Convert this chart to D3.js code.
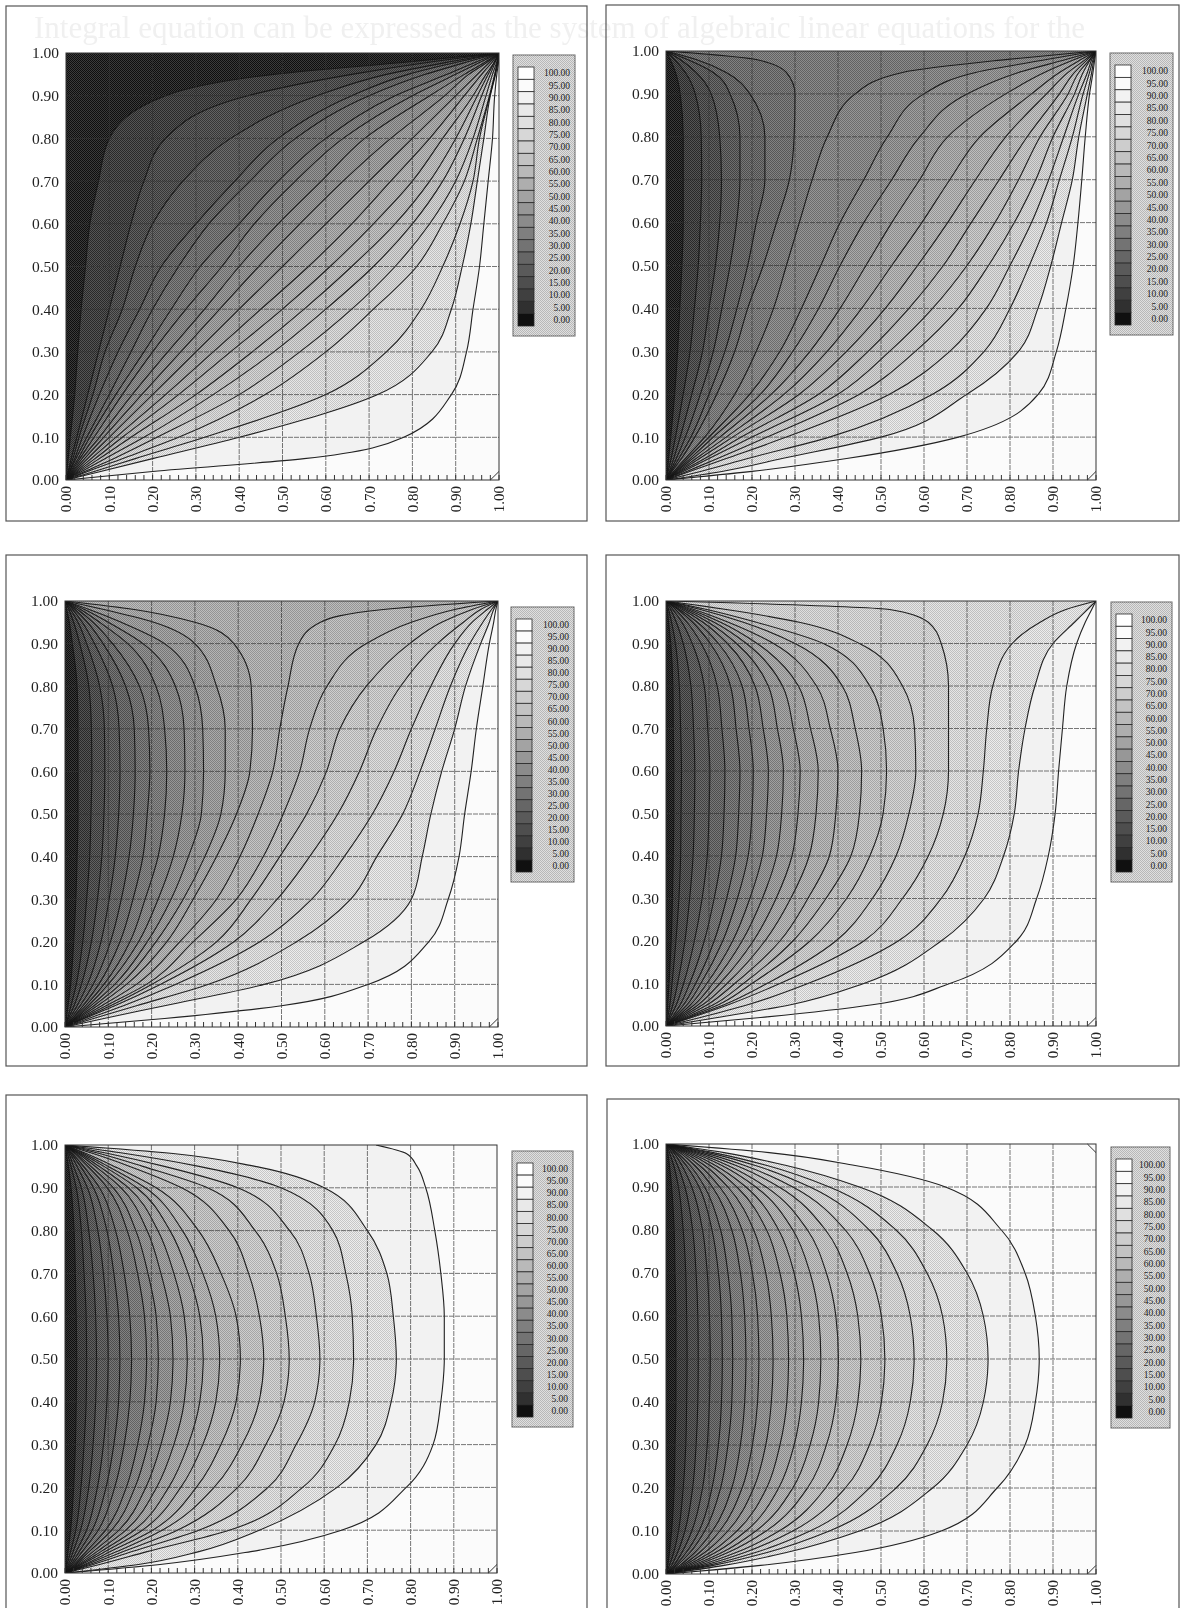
<!DOCTYPE html>
<html>
<head>
<meta charset="utf-8">
<script src="https://cdnjs.cloudflare.com/ajax/libs/d3/7.8.5/d3.min.js"></script>
<style>
html,body{margin:0;padding:0;background:#fff;}
svg{display:block;filter:blur(0.45px);}
text{font-family:"Liberation Serif",serif;fill:#222;}
</style>
</head>
<body>
<script>
// x position of each contour (level 5 ... 95) where it crosses the rows below
var rowY = [0.02,0.05,0.1,0.2,0.3,0.4,0.5,0.6,0.7,0.8,0.9,0.95,0.98,1]
var contourLevels = [5,10,15,20,25,30,35,40,45,50,55,60,65,70,75,80,85,90,95]
var legendLevels = [100,95,90,85,80,75,70,65,60,55,50,45,40,35,30,25,20,15,10,5,0]
var legendGrays = ["#ffffff","#fbfbfb","#f2f2f2","#e9e9e9","#e0e0e0","#d7d7d7","#cdcdcd","#c3c3c3","#b9b9b9","#aeaeae","#a3a3a3","#979797","#8b8b8b","#7f7f7f","#737373","#666666","#5a5a5a","#4e4e4e","#404040","#303030","#101010"]
var axisTicks = [0,0.1,0.2,0.3,0.4,0.5,0.6,0.7,0.8,0.9,1]
var cornerCut = [0.98,0.02]

var panelOne = [
[.002,.005,.01,.02,.027,.035,.045,.055,.075,.10,.23,.48,.80,1],
[.005,.012,.025,.05,.075,.10,.125,.15,.18,.23,.42,.66,.85,1],
[.006,.016,.03,.062,.09,.13,.16,.20,.27,.38,.58,.74,.89,1],
[.008,.02,.038,.077,.12,.17,.22,.30,.39,.49,.66,.79,.91,1],
[.009,.023,.048,.10,.15,.20,.26,.33,.425,.53,.70,.83,.93,1],
[.011,.028,.055,.115,.18,.243,.31,.40,.49,.60,.76,.88,.95,1],
[.013,.032,.065,.13,.20,.277,.36,.435,.53,.64,.80,.90,.96,1],
[.015,.037,.077,.153,.235,.32,.40,.49,.59,.69,.84,.92,.97,1],
[.017,.043,.087,.175,.265,.355,.445,.54,.64,.75,.875,.93,.975,1],
[.02,.05,.10,.20,.30,.40,.50,.60,.70,.80,.90,.95,.98,1],
[.023,.058,.115,.23,.34,.45,.56,.66,.75,.84,.92,.96,.985,1],
[.027,.067,.13,.26,.38,.50,.61,.71,.80,.87,.94,.97,.99,1],
[.031,.077,.15,.30,.43,.55,.66,.76,.84,.90,.95,.975,.99,1],
[.036,.09,.18,.34,.48,.60,.71,.80,.87,.92,.96,.98,.992,1],
[.043,.11,.21,.40,.54,.66,.76,.84,.90,.94,.97,.985,.995,1],
[.05,.13,.26,.46,.60,.71,.81,.87,.92,.95,.978,.99,.996,1],
[.065,.16,.32,.60,.74,.82,.87,.91,.94,.955,.979,.991,.997,1],
[.08,.20,.40,.72,.845,.89,.915,.935,.95,.965,.98,.992,.998,1],
[.20,.55,.78,.89,.925,.94,.955,.965,.975,.985,.99,.995,.999,1]
]
var panelTwo = [
[.003,.006,.011,.02,.027,.032,.037,.04,.04,.04,.033,.022,.01,0],
[.005,.012,.022,.04,.056,.066,.075,.08,.083,.082,.068,.045,.02,0],
[.008,.018,.033,.06,.085,.10,.115,.125,.129,.125,.105,.07,.033,0],
[.01,.024,.045,.08,.11,.13,.149,.164,.172,.172,.149,.11,.05,0],
[.012,.03,.058,.10,.137,.165,.19,.21,.23,.23,.195,.14,.07,0],
[.014,.036,.067,.118,.16,.19,.226,.257,.287,.298,.30,.28,.21,0],
[.018,.045,.09,.16,.21,.25,.28,.31,.34,.375,.44,.55,.79,1],
[.021,.05,.10,.195,.265,.315,.36,.405,.46,.515,.60,.72,.885,1],
[.023,.056,.11,.22,.295,.355,.405,.46,.525,.59,.70,.82,.93,1],
[.025,.062,.125,.245,.335,.405,.465,.525,.59,.655,.79,.88,.95,1],
[.028,.07,.14,.275,.375,.455,.525,.595,.66,.73,.85,.915,.965,1],
[.031,.078,.155,.31,.42,.51,.585,.655,.72,.79,.885,.935,.975,1],
[.035,.09,.175,.355,.47,.565,.645,.71,.775,.84,.915,.95,.98,1],
[.04,.10,.20,.40,.52,.62,.70,.765,.82,.87,.935,.96,.985,1],
[.048,.12,.235,.45,.58,.68,.75,.81,.86,.90,.95,.97,.987,1],
[.055,.14,.28,.52,.66,.745,.80,.85,.89,.925,.96,.98,.99,1],
[.08,.19,.38,.62,.74,.80,.845,.885,.915,.945,.97,.985,.993,1],
[.13,.27,.50,.70,.82,.865,.895,.92,.945,.96,.98,.99,.995,1],
[.20,.42,.68,.866,.908,.93,.947,.958,.967,.975,.985,.993,.997,1]
]
var panelThree = [
[.003,.007,.013,.02,.025,.028,.03,.03,.03,.028,.017,.01,.004,0],
[.006,.014,.026,.041,.05,.057,.06,.062,.061,.055,.034,.02,.009,0],
[.008,.021,.038,.061,.075,.085,.09,.092,.091,.08,.05,.03,.013,0],
[.011,.028,.052,.083,.102,.116,.124,.127,.125,.11,.068,.04,.018,0],
[.014,.035,.065,.105,.13,.148,.158,.162,.16,.14,.088,.052,.023,0],
[.017,.042,.078,.127,.157,.18,.19,.196,.193,.172,.11,.065,.029,0],
[.019,.048,.09,.15,.185,.215,.23,.235,.23,.21,.145,.08,.036,0],
[.022,.054,.10,.17,.215,.25,.27,.277,.275,.255,.18,.10,.045,0],
[.024,.06,.115,.19,.245,.285,.315,.32,.318,.30,.23,.13,.056,0],
[.027,.067,.128,.21,.273,.323,.36,.37,.37,.35,.30,.205,.09,0],
[.03,.075,.142,.235,.296,.35,.396,.427,.433,.43,.39,.30,.16,0],
[.034,.085,.165,.265,.35,.404,.446,.48,.496,.515,.54,.59,.735,1],
[.038,.095,.188,.296,.396,.458,.504,.542,.565,.605,.696,.80,.90,1],
[.042,.105,.20,.35,.43,.496,.558,.604,.635,.696,.796,.87,.94,1],
[.045,.115,.22,.39,.49,.565,.63,.68,.72,.775,.86,.92,.96,1],
[.054,.135,.255,.45,.57,.645,.71,.76,.80,.845,.90,.94,.975,1],
[.066,.165,.33,.535,.66,.72,.78,.82,.855,.89,.935,.965,.985,1],
[.09,.23,.46,.69,.80,.825,.845,.87,.90,.925,.96,.98,.99,1],
[.23,.50,.70,.84,.885,.91,.923,.938,.95,.965,.98,.99,.995,1]
]
var panelFour = [
[.002,.004,.007,.012,.015,.017,.018,.018,.017,.016,.011,.006,.003,0],
[.004,.009,.014,.023,.03,.034,.035,.036,.034,.031,.022,.013,.006,0],
[.007,.016,.027,.044,.055,.063,.066,.067,.064,.058,.04,.024,.011,0],
[.01,.024,.041,.066,.084,.096,.10,.102,.097,.089,.061,.037,.016,0],
[.014,.033,.055,.089,.112,.129,.135,.137,.13,.119,.082,.049,.022,0],
[.017,.041,.069,.112,.141,.162,.169,.172,.163,.15,.103,.062,.028,0],
[.02,.049,.081,.132,.166,.191,.20,.203,.193,.177,.122,.073,.032,0],
[.024,.057,.095,.155,.195,.224,.234,.238,.226,.207,.143,.086,.038,0],
[.027,.066,.109,.177,.224,.257,.269,.273,.259,.238,.164,.098,.044,0],
[.031,.075,.125,.203,.256,.293,.307,.312,.296,.271,.187,.112,.05,0],
[.035,.085,.142,.23,.29,.333,.349,.354,.336,.308,.212,.127,.057,0],
[.04,.096,.16,.265,.33,.38,.395,.40,.382,.35,.25,.145,.065,0],
[.045,.11,.18,.295,.372,.43,.45,.455,.44,.41,.30,.18,.08,0],
[.05,.122,.20,.335,.42,.474,.505,.513,.505,.474,.366,.21,.095,0],
[.055,.135,.235,.395,.48,.535,.565,.581,.578,.55,.45,.31,.14,0],
[.06,.145,.265,.46,.55,.61,.645,.657,.657,.657,.64,.61,.52,0],
[.08,.19,.33,.54,.64,.695,.726,.738,.746,.76,.805,.87,.93,1],
[.12,.29,.46,.64,.74,.785,.81,.82,.835,.858,.90,.95,.98,1],
[.22,.48,.66,.815,.862,.889,.905,.913,.922,.932,.955,.975,.99,1]
]
var panelFive = [
[.003,.007,.013,.02,.024,.026,.027,.026,.024,.021,.014,.008,.003,0],
[.005,.013,.025,.037,.044,.049,.05,.049,.044,.038,.026,.014,.006,0],
[.008,.019,.036,.055,.065,.071,.073,.071,.065,.055,.038,.02,.009,0],
[.011,.026,.05,.075,.089,.097,.10,.097,.089,.076,.052,.028,.012,0],
[.014,.033,.063,.095,.113,.124,.127,.124,.113,.097,.066,.036,.015,0],
[.017,.04,.077,.115,.137,.15,.154,.15,.137,.117,.08,.043,.018,0],
[.021,.049,.094,.142,.168,.184,.189,.184,.168,.144,.098,.053,.023,0],
[.024,.056,.108,.162,.192,.211,.216,.211,.192,.164,.112,.06,.026,0],
[.027,.065,.125,.187,.222,.244,.25,.244,.222,.19,.13,.07,.03,0],
[.031,.074,.141,.212,.252,.276,.283,.276,.252,.215,.147,.079,.034,0],
[.035,.083,.16,.24,.285,.312,.32,.312,.285,.243,.166,.09,.038,0],
[.039,.093,.179,.268,.319,.349,.358,.349,.319,.272,.186,.10,.043,0],
[.045,.105,.203,.304,.361,.396,.406,.396,.361,.309,.211,.114,.049,0],
[.05,.12,.225,.345,.41,.449,.46,.45,.425,.38,.27,.15,.065,0],
[.057,.135,.26,.40,.465,.507,.519,.51,.49,.44,.33,.18,.08,0],
[.065,.155,.31,.47,.535,.578,.59,.582,.565,.52,.40,.23,.10,0],
[.08,.19,.38,.55,.625,.658,.668,.665,.65,.62,.50,.31,.14,0],
[.17,.31,.45,.63,.72,.755,.767,.76,.745,.70,.60,.44,.25,0],
[.22,.43,.64,.79,.852,.87,.878,.878,.87,.856,.835,.815,.79,.72]
]
var panelSix = [
[.004,.008,.013,.019,.021,.023,.023,.023,.021,.019,.013,.008,.004,0],
[.008,.018,.029,.04,.046,.048,.049,.048,.046,.04,.029,.018,.008,0],
[.013,.027,.044,.062,.07,.074,.075,.074,.07,.062,.044,.027,.013,0],
[.018,.037,.06,.085,.096,.101,.103,.101,.096,.085,.06,.037,.018,0],
[.022,.047,.077,.107,.122,.129,.131,.129,.122,.107,.077,.047,.022,0],
[.026,.056,.09,.127,.144,.153,.155,.153,.144,.127,.09,.056,.026,0],
[.032,.067,.108,.153,.173,.183,.186,.183,.173,.153,.108,.067,.032,0],
[.037,.078,.125,.177,.201,.213,.216,.213,.201,.177,.125,.078,.037,0],
[.042,.09,.144,.204,.232,.245,.249,.245,.232,.204,.144,.09,.042,0],
[.048,.103,.165,.234,.265,.281,.285,.281,.265,.234,.165,.103,.048,0],
[.054,.115,.186,.262,.298,.315,.32,.315,.298,.262,.186,.115,.054,0],
[.061,.13,.209,.295,.335,.355,.36,.355,.335,.295,.209,.13,.061,0],
[.068,.144,.233,.329,.373,.395,.401,.395,.373,.329,.233,.144,.068,0],
[.077,.163,.263,.371,.421,.446,.453,.446,.421,.371,.263,.163,.077,0],
[.087,.183,.295,.417,.473,.501,.509,.501,.473,.417,.295,.183,.087,0],
[.098,.208,.335,.473,.537,.568,.577,.568,.537,.473,.335,.208,.098,0],
[.11,.235,.38,.535,.607,.643,.653,.643,.607,.535,.38,.235,.11,0],
[.135,.28,.45,.62,.70,.738,.749,.738,.70,.62,.45,.28,.135,0],
[.22,.44,.64,.77,.835,.859,.868,.859,.835,.78,.65,.44,.24,0]
]

// page layout, one entry per panel
var layout = [
  {table:panelOne,   frame:[6,6,581,515],    plot:[66,53,499,480],     legend:[513,55,62,281],  topCorner:false},
  {table:panelTwo,   frame:[606,5,573,516],  plot:[666,51,1096,480],   legend:[1110,53,63,282], topCorner:false},
  {table:panelThree, frame:[6,555,581,511],  plot:[65,601,498,1027],   legend:[511,607,63,275], topCorner:false},
  {table:panelFour,  frame:[606,555,573,511],plot:[666,601,1096,1026], legend:[1111,602,61,280],topCorner:false},
  {table:panelFive,  frame:[6,1095,581,560], plot:[65,1145,497,1573],  legend:[512,1151,61,276],topCorner:false},
  {table:panelSix,   frame:[607,1099,572,560],plot:[666,1144,1096,1574],legend:[1111,1147,59,281],topCorner:true}
]

var svg = d3.select("body").append("svg").attr("width",1180).attr("height",1608)
var defs = svg.append("defs")

// halftone from the scan
var dither = defs.append("pattern").attr("id","dither").attr("width",2).attr("height",2).attr("patternUnits","userSpaceOnUse")
dither.append("rect").attr("width",1).attr("height",1).attr("fill","#000").attr("opacity",0.15)
dither.append("rect").attr("x",1).attr("y",1).attr("width",1).attr("height",1).attr("fill","#000").attr("opacity",0.15)
dither.append("rect").attr("x",1).attr("width",1).attr("height",1).attr("fill","#fff").attr("opacity",0.18)
dither.append("rect").attr("y",1).attr("width",1).attr("height",1).attr("fill","#fff").attr("opacity",0.18)

// show-through from the other side of the page
svg.append("text").attr("x",34).attr("y",38).attr("font-size",31).style("fill","#f0f0f0")
    .text("Integral equation can be expressed as the system of algebraic linear equations for the")

var grayScale = d3.scaleOrdinal().domain(legendLevels).range(legendGrays)
var fmt = d3.format(".2f")

layout.forEach(function(p,pi){
    var f = p.frame
    svg.append("rect").attr("x",f[0]).attr("y",f[1]).attr("width",f[2]).attr("height",f[3])
        .attr("fill","none").attr("stroke","#555").attr("stroke-width",1.2)

    var x = d3.scaleLinear().domain([0,1]).range([p.plot[0],p.plot[2]])
    var y = d3.scaleLinear().domain([0,1]).range([p.plot[3],p.plot[1]])
    var plotW = p.plot[2]-p.plot[0], plotH = p.plot[3]-p.plot[1]

    defs.append("clipPath").attr("id","clip"+pi).append("rect")
        .attr("x",p.plot[0]).attr("y",p.plot[1]).attr("width",plotW).attr("height",plotH)
    var g = svg.append("g").attr("clip-path","url(#clip"+pi+")")

    g.append("rect").attr("x",p.plot[0]).attr("y",p.plot[1]).attr("width",plotW).attr("height",plotH)
        .attr("fill",grayScale(0))
    g.append("rect").attr("x",p.plot[0]).attr("y",p.plot[1]).attr("width",plotW).attr("height",plotH)
        .attr("fill","url(#dither)")

    var area = d3.area().curve(d3.curveMonotoneY)
        .y(function(d){return y(d.y)})
        .x0(function(d){return x(d.x)})
        .x1(x(1))
    var line = d3.line().curve(d3.curveMonotoneY)
        .x(function(d){return x(d.x)})
        .y(function(d){return y(d.y)})

    var curves = p.table.map(function(row){
        var pts = [{x:0,y:0}]
        row.forEach(function(v,i){ pts.push({x:v,y:rowY[i]}) })
        return pts
    })

    // paint each band from its contour to the right edge, low levels first
    curves.forEach(function(pts,i){
        var lev = contourLevels[i]
        g.append("path").attr("d",area(pts)).attr("fill",grayScale(lev))
        if(lev<90) g.append("path").attr("d",area(pts)).attr("fill","url(#dither)")
    })

    curves.forEach(function(pts){
        g.append("path").attr("d",line(pts)).attr("fill","none").attr("stroke","#161616")
            .attr("stroke-width",1.1).attr("opacity",0.95)
    })

    // grid
    var grid = svg.append("g").attr("stroke","#333").attr("stroke-width",1).attr("opacity",0.66).attr("stroke-dasharray","5 1")
    grid.selectAll("line.v").data(axisTicks.slice(1,-1)).enter().append("line").attr("class","v")
        .attr("x1",function(d){return x(d)}).attr("x2",function(d){return x(d)})
        .attr("y1",y(1)).attr("y2",y(0))
    grid.selectAll("line.h").data(axisTicks.slice(1,-1)).enter().append("line").attr("class","h")
        .attr("y1",function(d){return y(d)}).attr("y2",function(d){return y(d)})
        .attr("x1",x(0)).attr("x2",x(1))

    // little tick comb along the bottom
    svg.append("g").selectAll("line").data(d3.range(0,51)).enter().append("line")
        .attr("x1",function(d){return x(d/50)}).attr("x2",function(d){return x(d/50)})
        .attr("y1",y(0)).attr("y2",y(0)-5)
        .attr("stroke","#333").attr("stroke-width",1)

    // corner cuts
    var cuts = [[[cornerCut[0],0],[1,cornerCut[1]]]]
    if(p.topCorner) cuts.push([[cornerCut[0],1],[1,cornerCut[0]]])
    var cutLine = d3.line().x(function(d){return x(d[0])}).y(function(d){return y(d[1])})
    cuts.forEach(function(c){
        svg.append("path").attr("d",cutLine(c)).attr("fill","none").attr("stroke","#333").attr("stroke-width",1)
    })

    svg.append("rect").attr("x",p.plot[0]).attr("y",p.plot[1]).attr("width",plotW).attr("height",plotH)
        .attr("fill","none").attr("stroke","#333").attr("stroke-width",1)

    // axes
    var yAxis = d3.axisLeft(y).tickValues(axisTicks).tickFormat(fmt).tickSize(0).tickPadding(7)
    var ya = svg.append("g").attr("transform","translate("+x(0)+",0)").call(yAxis)
    ya.select(".domain").remove()
    ya.selectAll("text").attr("font-size",15.5).attr("font-family","Liberation Serif")

    var xAxis = d3.axisBottom(x).tickValues(axisTicks).tickFormat(fmt).tickSize(0).tickPadding(0)
    var xa = svg.append("g").attr("transform","translate(0,"+y(0)+")").call(xAxis)
    xa.select(".domain").remove()
    xa.selectAll("text").attr("font-size",15).attr("font-family","Liberation Serif")
        .attr("text-anchor","end").attr("transform","rotate(-90)")
        .attr("x",-6).attr("y",0).attr("dy","0.33em")

    // legend
    var lg = p.legend
    svg.append("rect").attr("x",lg[0]).attr("y",lg[1]).attr("width",lg[2]).attr("height",lg[3])
        .attr("fill","#d8d8d8").attr("stroke","#666").attr("stroke-width",1)
    svg.append("rect").attr("x",lg[0]).attr("y",lg[1]).attr("width",lg[2]).attr("height",lg[3])
        .attr("fill","url(#dither)")
    var band = d3.scaleBand().domain(legendLevels).range([lg[1]+12,lg[1]+lg[3]-10])
    svg.append("g").selectAll("rect").data(legendLevels).enter().append("rect")
        .attr("x",lg[0]+5).attr("y",function(d){return band(d)})
        .attr("width",16).attr("height",band.bandwidth())
        .attr("fill",function(d){return grayScale(d)})
        .attr("stroke","#2a2a2a").attr("stroke-width",0.8)
    svg.append("g").selectAll("text").data(legendLevels).enter().append("text")
        .attr("x",lg[0]+lg[2]-5).attr("y",function(d){return band(d)+band.bandwidth()/2})
        .attr("dy","0.33em").attr("text-anchor","end").attr("font-size",9.5)
        .text(function(d){return fmt(d)})
})
</script>
</body>
</html>
